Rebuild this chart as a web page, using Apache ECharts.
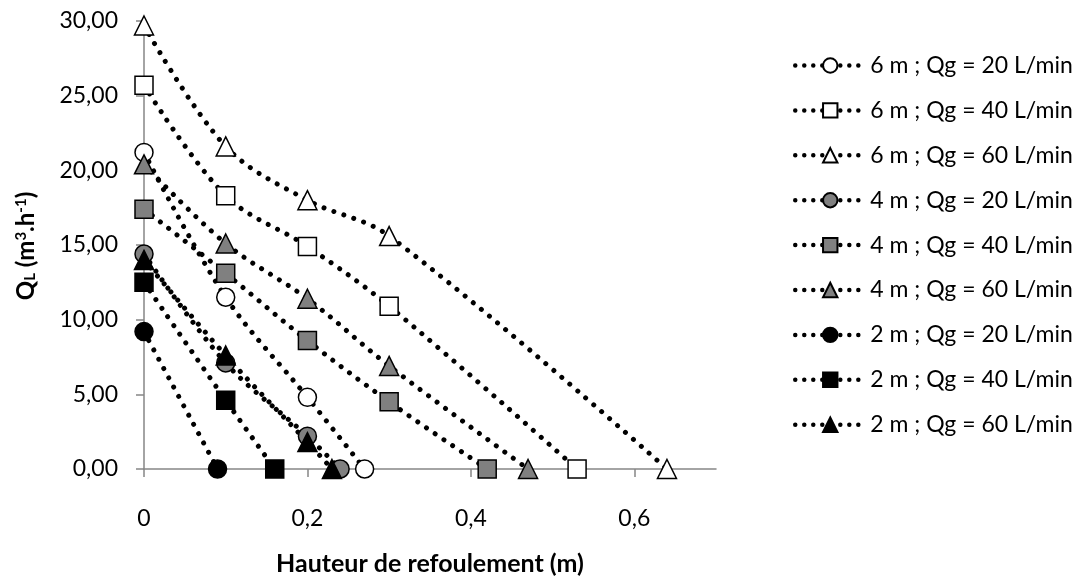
<!DOCTYPE html>
<html>
<head>
<meta charset="utf-8">
<script src="https://cdn.jsdelivr.net/npm/echarts@6/dist/echarts.min.js"></script>
<style>
  html, body { margin: 0; padding: 0; background: #fff; }
  #chart { width: 1083px; height: 581px; }
</style>
</head>
<body>
<div id="chart"></div>
<script>
// Hauteur de refoulement (m) vs débit liquide Q_L (m3/h)
const seriesNames = [
  '6 m ; Qg = 20 L/min', '6 m ; Qg = 40 L/min', '6 m ; Qg = 60 L/min',
  '4 m ; Qg = 20 L/min', '4 m ; Qg = 40 L/min', '4 m ; Qg = 60 L/min',
  '2 m ; Qg = 20 L/min', '2 m ; Qg = 40 L/min', '2 m ; Qg = 60 L/min'
];

const h6q20 = [[0, 21.2], [0.1, 11.5], [0.2, 4.8], [0.27, 0]];
const h6q40 = [[0, 25.7], [0.1, 18.3], [0.2, 14.9], [0.3, 10.9], [0.53, 0]];
const h6q60 = [[0, 29.7], [0.1, 21.6], [0.2, 18.0], [0.3, 15.6], [0.64, 0]];
const h4q20 = [[0, 14.4], [0.1, 7.1], [0.2, 2.2], [0.24, 0]];
const h4q40 = [[0, 17.4], [0.1, 13.1], [0.2, 8.6], [0.3, 4.5], [0.42, 0]];
const h4q60 = [[0, 20.4], [0.1, 15.1], [0.2, 11.4], [0.3, 6.9], [0.47, 0]];
const h2q20 = [[0, 9.2], [0.09, 0]];
const h2q40 = [[0, 12.5], [0.1, 4.6], [0.16, 0]];
const h2q60 = [[0, 14.0], [0.1, 7.6], [0.2, 1.8], [0.23, 0]];

const xTicks = [0, 0.2, 0.4, 0.6];
const yTicks = [0, 5, 10, 15, 20, 25, 30];

const seriesData = [h6q20, h6q40, h6q60, h4q20, h4q40, h4q60, h2q20, h2q40, h2q60];
const symbols = ['circle', 'rect', 'triangle', 'circle', 'rect', 'triangle', 'circle', 'rect', 'triangle'];
const fills = ['#ffffff', '#ffffff', '#ffffff', '#808080', '#808080', '#808080', '#000000', '#000000', '#000000'];

const FONT = 'Lato';

const series = seriesData.map((d, i) => ({
  name: seriesNames[i],
  type: 'line',
  data: d,
  smooth: 0.35,
  symbol: symbols[i],
  symbolSize: symbols[i] === 'triangle' ? 19 : 18,
  showAllSymbol: true,
  lineStyle: { color: '#000', width: 5, type: [0.01, 10.5], cap: 'round' },
  itemStyle: { color: fills[i], borderColor: '#000', borderWidth: 1.5, opacity: 1 },
  emphasis: { disabled: true },
  animation: false
}));

const titleRich = {
  main: { fontFamily: FONT, fontSize: 24, fontWeight: 'bold', fill: '#000' },
  lo: { fontFamily: FONT, fontSize: 15, fontWeight: 'bold', fill: '#000', verticalAlign: 'bottom' },
  hi: { fontFamily: FONT, fontSize: 15, fontWeight: 'bold', fill: '#000', verticalAlign: 'top' }
};

const chart = echarts.init(document.getElementById('chart'), null, { renderer: 'canvas' });
chart.setOption({
  backgroundColor: '#fff',
  animation: false,
  grid: { left: 144, right: 367, top: 21, bottom: 110, containLabel: false },
  legend: {
    orient: 'vertical',
    left: 788,
    top: 49,
    itemWidth: 70,
    itemHeight: 18,
    itemGap: 21.9,
    lineStyle: { color: '#000', width: 4.5, type: [0.01, 9], cap: 'round' },
    textStyle: { fontFamily: FONT, fontSize: 23, color: '#000' },
    data: seriesNames
  },
  // vertical axis title with subscript / superscripts
  graphic: [{
    type: 'text',
    x: 26,
    y: 246,
    rotation: Math.PI / 2,
    style: {
      text: '{main|Q}{lo|L}{main| (m}{hi|3}{main|.h}{hi|-1}{main|)}',
      align: 'center',
      verticalAlign: 'middle',
      rich: titleRich
    }
  }],
  xAxis: {
    type: 'value',
    min: 0,
    max: 0.7,
    interval: 0.1,
    name: 'Hauteur de refoulement (m)',
    nameLocation: 'middle',
    nameGap: 82,
    nameTextStyle: { fontFamily: FONT, fontSize: 25, fontWeight: 'bold', color: '#000' },
    axisLine: { lineStyle: { color: '#868686', width: 1.5 } },
    axisTick: { show: true, length: 8, lineStyle: { color: '#868686', width: 1.5 }, customValues: xTicks },
    axisLabel: {
      fontFamily: FONT, fontSize: 23, color: '#000', margin: 38,
      customValues: xTicks,
      formatter: v => (v === 0 ? '0' : String(Math.round(v * 10) / 10).replace('.', ','))
    },
    splitLine: { show: false }
  },
  yAxis: {
    type: 'value',
    min: 0,
    max: 30,
    interval: 5,
    axisLine: { show: true, lineStyle: { color: '#868686', width: 1.5 } },
    axisTick: { show: true, length: 8, lineStyle: { color: '#868686', width: 1.5 }, customValues: yTicks },
    axisLabel: {
      fontFamily: FONT, fontSize: 23, color: '#000', margin: 26,
      customValues: yTicks,
      formatter: v => v.toFixed(2).replace('.', ',')
    },
    splitLine: { show: false }
  },
  series: series
});
</script>
</body>
</html>
